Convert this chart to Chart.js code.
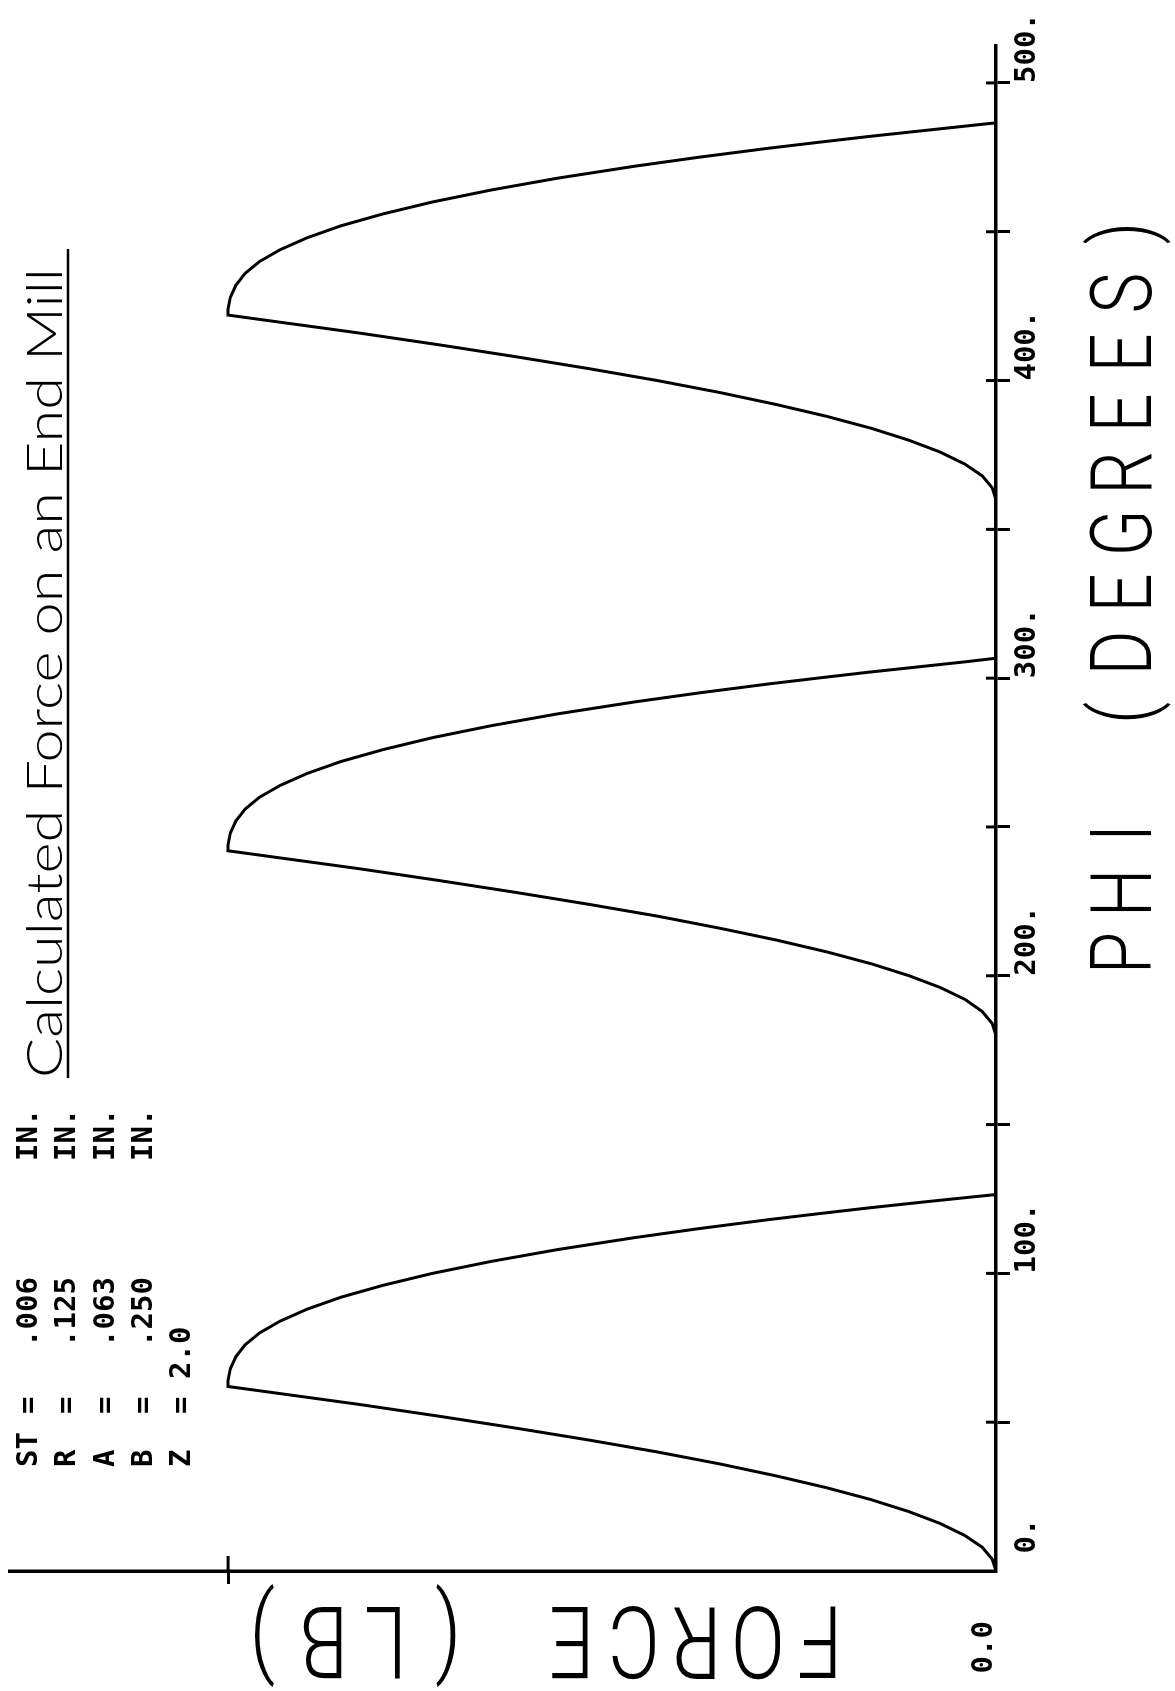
<!DOCTYPE html>
<html>
<head>
<meta charset="utf-8">
<script src="https://cdn.jsdelivr.net/npm/chart.js@4.4.1/dist/chart.umd.min.js"></script>
<style>
  html, body { margin: 0; padding: 0; background: #fff; overflow: hidden; width: 1175px; height: 1691px; }
  #page { position: relative; width: 1175px; height: 1691px; overflow: hidden; background: #fff; }
  /* the plot is drawn upright, then turned a quarter turn like the plotter sheet */
  #plot { position: absolute; left: 0; top: 0; width: 1691px; height: 1175px;
          transform-origin: 0 0; transform: translateY(1691px) rotate(-90deg); }
</style>
</head>
<body>
<div id="page"><div id="plot"><canvas id="c" width="1691" height="1175"></canvas></div></div>
<script>
// cutting force per tooth pass (force as fraction of the top tick)
const phiTooth1 = [0, 4, 8, 12, 16, 20, 24, 28, 32, 36, 40, 44, 48, 52, 56, 59, 62, 64, 68, 72, 76, 80, 84, 88, 92, 96, 100, 104, 108, 112, 115, 118, 120, 122, 124, 125.5, 126.5];
const forceTooth1 = [0, 0.005, 0.018, 0.041, 0.073, 0.114, 0.163, 0.221, 0.287, 0.36, 0.441, 0.53, 0.625, 0.725, 0.83, 0.915, 1.0, 1.0, 0.997, 0.99, 0.978, 0.959, 0.932, 0.897, 0.853, 0.798, 0.734, 0.658, 0.571, 0.471, 0.388, 0.298, 0.233, 0.166, 0.094, 0.038, 0];
const phiTooth2 = [180, 184, 188, 192, 196, 200, 204, 208, 212, 216, 220, 224, 228, 232, 236, 239, 242, 244, 248, 252, 256, 260, 264, 268, 272, 276, 280, 284, 288, 292, 295, 298, 300, 302, 304, 305.5, 306.7];
const forceTooth2 = [0, 0.005, 0.018, 0.04, 0.072, 0.113, 0.162, 0.22, 0.286, 0.36, 0.44, 0.53, 0.625, 0.725, 0.83, 0.915, 1.0, 1.0, 0.997, 0.99, 0.978, 0.959, 0.932, 0.897, 0.853, 0.798, 0.734, 0.658, 0.571, 0.471, 0.388, 0.298, 0.233, 0.166, 0.094, 0.04, 0];
const phiTooth3 = [360, 364, 368, 372, 376, 380, 384, 388, 392, 396, 400, 404, 408, 412, 416, 419, 422, 424, 428, 432, 436, 440, 444, 448, 452, 456, 460, 464, 468, 472, 475, 478, 480, 482, 484, 485.5, 486.6];
const forceTooth3 = [0, 0.005, 0.018, 0.041, 0.073, 0.114, 0.163, 0.221, 0.287, 0.36, 0.441, 0.53, 0.625, 0.725, 0.83, 0.915, 1.0, 1.0, 0.997, 0.99, 0.978, 0.959, 0.932, 0.897, 0.853, 0.798, 0.734, 0.658, 0.571, 0.471, 0.388, 0.298, 0.233, 0.166, 0.094, 0.04, 0];

const phiTicks = [0, 50, 100, 150, 200, 250, 300, 350, 400, 450, 500];
const phiLabels = [' 0.', '', '100.', '', '200.', '', '300.', '', '400.', '', '500.'];
const forceTicks = [0, 1];
const forceLabels = ['0.0', ''];

const paramNames = ['ST', 'R', 'A', 'B', 'Z'];
const paramValues = ['.006', '.125', '.063', '.250', '2.0'];
const paramUnits = ['IN.', 'IN.', 'IN.', 'IN.', ''];

const title = 'Calculated Force on an End Mill';
const xTitle = 'PHI (DEGREES)';
const yTitle = 'FORCE (LB)';

const points = [];
[[phiTooth1, forceTooth1], [phiTooth2, forceTooth2], [phiTooth3, forceTooth3]].forEach(([p, f]) => {
  p.forEach((v, i) => points.push({ x: v, y: f[i] }));
});

const mono = '"DejaVu Sans Mono", "Liberation Mono", monospace';

function fitText(ctx, str, font, x, y, w) {
  ctx.save();
  ctx.font = font;
  ctx.textAlign = 'left';
  ctx.textBaseline = 'alphabetic';
  ctx.translate(x, y);
  ctx.scale(w / ctx.measureText(str).width, 1);
  ctx.fillText(str, 0, 0);
  ctx.restore();
}

// plotter lettering: fixed pitch, narrow glyphs
function pitched(ctx, str, x, y, pitch, size, angle) {
  ctx.save();
  ctx.translate(x, y);
  if (angle) ctx.rotate(angle);
  ctx.font = '300 ' + size + 'px Roboto, "Open Sans", sans-serif';
  ctx.textAlign = 'center';
  ctx.textBaseline = 'alphabetic';
  [...str].forEach((ch, i) => {
    ctx.save();
    ctx.translate(i * pitch + 22, 0);
    ctx.scale(0.8, 1);
    ctx.fillText(ch, 0, 0);
    ctx.restore();
  });
  ctx.restore();
}

const plotterMarks = {
  id: 'plotterMarks',
  afterDraw(chart) {
    const ctx = chart.ctx;
    const a = chart.chartArea;
    const xs = chart.scales.x;
    const ys = chart.scales.y;
    ctx.save();
    ctx.strokeStyle = '#000';
    ctx.fillStyle = '#000';
    ctx.lineWidth = 3;
    // tick marks cross the axis on the plotter, draw the inner half
    xs.ticks.forEach(t => {
      if (t.value === 0) return;
      const x = xs.getPixelForValue(t.value);
      ctx.beginPath(); ctx.moveTo(x, a.bottom - 10); ctx.lineTo(x, a.bottom); ctx.stroke();
    });
    ys.ticks.forEach(t => {
      if (t.value === 0) return;
      const y = ys.getPixelForValue(t.value);
      ctx.beginPath(); ctx.moveTo(a.left, y); ctx.lineTo(a.left + 15, y); ctx.stroke();
    });

    // title with underline
    fitText(ctx, title, '300 49px Lato, "Open Sans", sans-serif', 613, 62, 810);
    ctx.lineWidth = 2.5;
    ctx.beginPath(); ctx.moveTo(613, 68); ctx.lineTo(1442, 68); ctx.stroke();

    // axis titles
    pitched(ctx, yTitle, 84, 842, 62, 100, -Math.PI / 2);
    pitched(ctx, xTitle, 716, 1151, 60, 86);

    // parameter block
    ctx.font = 'bold 29px ' + mono;
    ctx.textAlign = 'left';
    ctx.textBaseline = 'alphabetic';
    paramNames.forEach((n, i) => {
      const y = 37 + i * 38.3;
      ctx.fillText(n, 224, y);
      ctx.fillText('=', 277, y);
      ctx.fillText(paramValues[i], paramValues[i].startsWith('.') ? 344 : 312, y);
      if (paramUnits[i]) ctx.fillText(paramUnits[i], 530, y);
    });
    ctx.restore();
  }
};

const hideZero = c => (c.tick && c.tick.value === 0 ? 'rgba(0,0,0,0)' : '#000');

new Chart(document.getElementById('c'), {
  type: 'line',
  data: {
    datasets: [{
      data: points,
      borderColor: '#000',
      borderWidth: 3,
      pointRadius: 0,
      tension: 0,
      fill: false
    }]
  },
  options: {
    responsive: false,
    animation: false,
    devicePixelRatio: 1,
    layout: { padding: { left: 0, top: 10, right: 45, bottom: 0 } },
    plugins: { legend: { display: false }, tooltip: { enabled: false } },
    scales: {
      x: {
        type: 'linear',
        min: 0,
        max: 512.75,
        afterBuildTicks: s => { s.ticks = phiTicks.map(v => ({ value: v })); },
        afterFit: s => { s.height = 179; s.paddingLeft = 0; s.paddingRight = 0; },
        border: { display: true, color: '#000', width: 3.5 },
        grid: { drawOnChartArea: false, drawTicks: true, tickLength: 14, tickWidth: 3, tickColor: hideZero },
        ticks: {
          align: 'start', padding: 0, maxRotation: 0, autoSkip: false, color: '#000',
          font: { family: mono, size: 29, weight: 'bold' },
          callback: (v, i) => phiLabels[i]
        }
      },
      y: {
        type: 'linear',
        min: 0,
        max: 1.284,
        afterBuildTicks: s => { s.ticks = forceTicks.map(v => ({ value: v })); },
        afterFit: s => { s.width = 120; s.paddingTop = 0; s.paddingBottom = 0; },
        border: { display: true, color: '#000', width: 3.5 },
        grid: { drawOnChartArea: false, drawTicks: true, tickLength: 13, tickWidth: 3, tickColor: hideZero },
        ticks: {
          padding: 37, labelOffset: -12, autoSkip: false, color: '#000',
          font: { family: mono, size: 29, weight: 'bold' },
          callback: (v, i) => forceLabels[i]
        }
      }
    }
  },
  plugins: [plotterMarks]
});
</script>
</body>
</html>
